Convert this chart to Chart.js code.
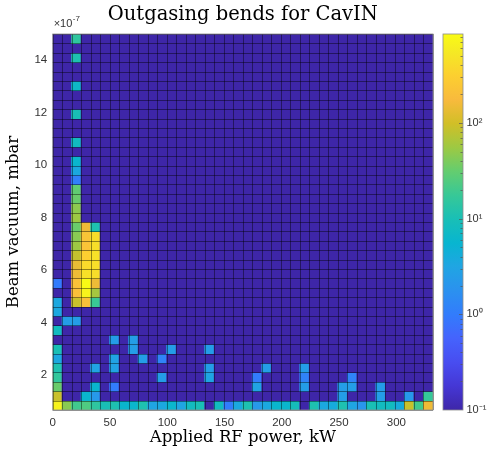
<!DOCTYPE html>
<html><head><meta charset="utf-8">
<script src="https://cdn.jsdelivr.net/npm/chart.js@4.4.1/dist/chart.umd.min.js"></script>
<style>
html,body{margin:0;padding:0;background:#fff;}
#wrap{position:relative;width:489px;height:457px;}
#wrap canvas{position:absolute;left:0;top:0;}
</style></head><body>
<div id="wrap"><canvas id="main" width="489" height="457"></canvas><canvas id="cbar" width="489" height="457"></canvas></div>
<script>
// ---- data ----
// Applied RF power bin edges (kW)
const powerEdges = [0, 8.3, 16.6, 24.9, 33.2, 41.5, 49.8, 58.1, 66.4, 74.7, 83, 91.3, 99.6, 107.9, 116.2, 124.5, 132.8, 141.1, 149.4, 157.7, 166, 174.3, 182.6, 190.9, 199.2, 207.5, 215.8, 224.1, 232.4, 240.7, 249, 257.3, 265.6, 273.9, 282.2, 290.5, 298.8, 307.1, 315.4, 323.7, 332];
// Beam vacuum bin edges (x1e-7 mbar)
const vacuumEdges = [0.667, 1.025, 1.384, 1.742, 2.100, 2.458, 2.817, 3.175, 3.533, 3.891, 4.250, 4.608, 4.966, 5.324, 5.683, 6.041, 6.399, 6.757, 7.116, 7.474, 7.832, 8.190, 8.549, 8.907, 9.265, 9.623, 9.982, 10.340, 10.698, 11.056, 11.415, 11.773, 12.131, 12.489, 12.848, 13.206, 13.564, 13.922, 14.281, 14.639, 14.997];
const xTickValues = [0, 50, 100, 150, 200, 250, 300];
const yTickValues = [2, 4, 6, 8, 10, 12, 14];
const colorLimits = [0.1, 850];
const colorbarTickValues = [0.1, 1, 10, 100];
const colorbarTickLabels = ['10\u207B\u00B9', '10\u2070', '10\u00B9', '10\u00B2'];
// non-empty bins: [power bin, vacuum bin, value]
const bottomRowCells = [[0,0,700],[1,0,45],[2,0,20],[3,0,24],[4,0,15],[5,0,10],[6,0,11],[7,0,6],[8,0,6],[9,0,11],[10,0,3.2],[11,0,3.5],[12,0,6],[13,0,3.2],[14,0,8],[15,0,10],[17,0,8],[18,0,1.0],[19,0,3.5],[20,0,11],[21,0,2.2],[22,0,3.5],[23,0,6],[24,0,6],[25,0,9],[27,0,11],[28,0,3.5],[29,0,4],[30,0,11],[31,0,3.2],[32,0,2],[33,0,10],[34,0,8],[35,0,8],[36,0,4],[37,0,90],[38,0,20],[39,0,150]];
const lowVacuumCells = [[0,1,90],[3,1,6],[4,1,2.2],[30,1,2.5],[34,1,2.5],[37,1,2.2],[39,1,17],
  [0,2,33],[4,2,6],[6,2,1.0],[21,2,3],[26,2,2.5],[30,2,2.5],[31,2,2.5],[34,2,2.5],
  [0,3,16],[11,3,2.5],[16,3,3.2],[21,3,1.0],[26,3,1.2],[31,3,1.2],
  [0,4,11],[4,4,3],[6,4,3],[16,4,2.5],[22,4,2.5],[26,4,2.5],
  [0,5,3.5],[6,5,3],[9,5,2.5],[11,5,1.2],
  [0,6,10],[8,6,2.5],[12,6,2.5],[16,6,2.5],
  [6,7,2.5],[8,7,2.5],
  [0,8,8],[1,9,2.5],[2,9,2.5],[0,10,3.5]];
const burstCells = [[0,11,3.5],[2,11,90],[3,11,200],[4,11,18],
  [2,12,200],[3,12,700],[4,12,60],
  [0,13,1.0],[2,13,210],[3,13,850],[4,13,150],
  [2,14,150],[3,14,450],[4,14,420],
  [2,15,140],[3,15,400],[4,15,440],
  [2,16,85],[3,16,300],[4,16,460],
  [2,17,55],[3,17,220],[4,17,430],
  [2,18,45],[3,18,230],[4,18,420],
  [2,19,33],[3,19,150],[4,19,11],
  [2,20,55],[2,21,47],[2,22,33],[2,23,30],[2,24,1.1],[2,25,3.5],[2,26,6],
  [2,28,8],[2,31,10],[2,34,7],[2,37,11],[2,39,15]];

// ---- colormap (parula) ----
const parulaStops = [[0,0.2422,0.1504,0.6603],[0.0635,0.2706,0.2147,0.8364],[0.127,0.2813,0.3006,0.9414],[0.1905,0.2699,0.3892,0.9906],[0.254,0.1963,0.4847,0.9892],[0.3175,0.1687,0.5703,0.9359],[0.381,0.1248,0.6459,0.8883],[0.444,0.0297,0.7082,0.8163],[0.508,0.0964,0.75,0.712],[0.571,0.2161,0.7843,0.5923],[0.635,0.3909,0.8029,0.4354],[0.698,0.6174,0.7876,0.2612],[0.762,0.8203,0.7498,0.1535],[0.825,0.9728,0.7298,0.2394],[0.889,0.9892,0.8136,0.1885],[0.952,0.9597,0.9135,0.1423],[1,0.9769,0.9839,0.0805]];
function parula(p){
  p = Math.max(0, Math.min(1, p));
  for (let i = 1; i < parulaStops.length; i++) {
    const a = parulaStops[i-1], b = parulaStops[i];
    if (p <= b[0]) {
      const t = (p - a[0]) / (b[0] - a[0]);
      return [0,1,2].map(k => (a[k+1] + t*(b[k+1]-a[k+1])) * 255);
    }
  }
  return parulaStops[parulaStops.length-1].slice(1).map(v => v*255);
}
function rgb(c){ return 'rgb(' + c.map(v => Math.round(v)).join(',') + ')'; }
const lmin = Math.log10(colorLimits[0]), lmax = Math.log10(colorLimits[1]);
function cellColor(v){ return parula(v > 0 ? (Math.log10(v) - lmin) / (lmax - lmin) : 0); }

// ---- build bins ----
const nX = powerEdges.length - 1, nY = vacuumEdges.length - 1;
const value = Array.from({length: nY}, () => new Array(nX).fill(0));
[...bottomRowCells, ...lowVacuumCells, ...burstCells].forEach(([c, r, v]) => { value[r][c] = v; });
const points = [], fills = [];
for (let r = 0; r < nY; r++) {
  for (let c = 0; c < nX; c++) {
    points.push({x: (powerEdges[c] + powerEdges[c+1]) / 2, y: [vacuumEdges[r], vacuumEdges[r+1]]});
    fills.push(rgb(cellColor(value[r][c])));
  }
}

// tile edges (through the scales) + axes box + exponent
const edgePlugin = {
  id: 'edges',
  afterDatasetsDraw(chart) {
    const {ctx, chartArea: a, scales: {x, y}} = chart;
    ctx.save();
    ctx.strokeStyle = 'rgba(0,0,0,0.42)';
    ctx.lineWidth = 1;
    ctx.beginPath();
    powerEdges.forEach(e => { const px = Math.round(x.getPixelForValue(e)) + 0.5; ctx.moveTo(px, a.top); ctx.lineTo(px, a.bottom); });
    vacuumEdges.forEach(e => { const py = Math.round(y.getPixelForValue(e)) + 0.5; ctx.moveTo(a.left, py); ctx.lineTo(a.right, py); });
    ctx.stroke();
    ctx.strokeStyle = '#8c8c8c';
    ctx.lineWidth = 0.8;
    ctx.strokeRect(a.left, a.top, a.right - a.left, a.bottom - a.top);
    ctx.fillStyle = '#333';
    ctx.textBaseline = 'alphabetic';
    ctx.font = '11px "Liberation Sans", Arial, sans-serif';
    ctx.fillText('\u00D710', a.left + 1, 27);
    const w = ctx.measureText('\u00D710').width;
    ctx.font = '8px "Liberation Sans", Arial, sans-serif';
    ctx.fillText('-7', a.left + 1 + w + 0.5, 21);
    ctx.restore();
  }
};

new Chart(document.getElementById('main'), {
  type: 'bar',
  data: { datasets: [{
    data: points,
    backgroundColor: fills,
    borderWidth: 0,
    inflateAmount: 0.5,
    categoryPercentage: 1,
    barPercentage: 1
  }]},
  options: {
    responsive: false, animation: false,
    layout: {padding: {left: 0, right: 56, top: 0, bottom: 0}},
    plugins: {
      legend: {display: false}, tooltip: {enabled: false},
      title: {display: true, fullSize: false, text: 'Outgasing bends for CavIN', color: '#000',
        font: {family: '"DejaVu Serif", serif', size: 19.5, weight: 'normal'}, padding: {top: 3.6, bottom: 7}}
    },
    scales: {
      x: {
        type: 'linear', offset: false, min: powerEdges[0], max: powerEdges[nX],
        afterBuildTicks: s => { s.ticks = xTickValues.map(v => ({value: v})); },
        afterFit: s => { s.height = 47; },
        grid: {display: false, drawTicks: false, offset: false}, border: {display: false},
        ticks: {padding: 6, color: '#333', maxRotation: 0, autoSkip: false, font: {family: '"Liberation Sans", Arial, sans-serif', size: 11.5}},
        title: {display: true, text: 'Applied RF power, kW', color: '#000', font: {family: '"DejaVu Serif", serif', size: 16.5}, padding: {top: 0, bottom: 9}}
      },
      y: {
        type: 'linear', min: vacuumEdges[0], max: vacuumEdges[nY],
        afterBuildTicks: s => { s.ticks = yTickValues.map(v => ({value: v})); },
        afterFit: s => { s.width = 52.7; },
        grid: {display: false, drawTicks: false}, border: {display: false},
        ticks: {padding: 5.5, color: '#333', autoSkip: false, font: {family: '"Liberation Sans", Arial, sans-serif', size: 11.5}},
        title: {display: true, text: 'Beam vacuum, mbar', color: '#000', font: {family: '"DejaVu Serif", serif', size: 16.5}, padding: {top: 3.5, bottom: 0}}
      }
    }
  },
  plugins: [edgePlugin]
});

// ---- colorbar ----
const cbPlugin = {
  id: 'cbticks',
  afterDraw(chart) {
    const {ctx, chartArea: a} = chart;
    const s = chart.scales.y;
    ctx.save();
    ctx.strokeStyle = '#555';
    ctx.lineWidth = 0.7;
    s.ticks.forEach(t => {
      const v = t.value;
      const e = Math.floor(Math.log10(v) + 1e-9);
      const m = v / Math.pow(10, e);
      if (Math.abs(m - Math.round(m)) > 1e-6) return;
      if (v <= colorLimits[0] * 1.0001 || v >= colorLimits[1] * 0.999) return;
      const y = Math.round(s.getPixelForValue(v)) + 0.5;
      const len = Math.round(m) === 1 ? 4 : 2.5;
      ctx.beginPath(); ctx.moveTo(a.right, y); ctx.lineTo(a.right - len, y); ctx.stroke();
    });
    ctx.strokeStyle = '#8c8c8c';
    ctx.lineWidth = 0.8;
    ctx.strokeRect(a.left, a.top, a.right - a.left, a.bottom - a.top);
    ctx.restore();
  }
};
new Chart(document.getElementById('cbar'), {
  type: 'bar',
  data: { labels: ['colour'], datasets: [{
    data: [colorLimits],
    backgroundColor: ctx => {
      const a = ctx.chart.chartArea;
      if (!a) return '#000';
      const g = ctx.chart.ctx.createLinearGradient(0, a.bottom, 0, a.top);
      parulaStops.forEach(st => g.addColorStop(st[0], rgb(st.slice(1).map(v => v*255))));
      return g;
    },
    borderWidth: 0, inflateAmount: 0, categoryPercentage: 1, barPercentage: 1
  }]},
  options: {
    responsive: false, animation: false,
    layout: {padding: {left: 443, right: 0, top: 34, bottom: 47}},
    plugins: {legend: {display: false}, tooltip: {enabled: false}},
    scales: {
      x: {display: false},
      y: {
        type: 'logarithmic', position: 'right', min: colorLimits[0], max: colorLimits[1],
        afterFit: s => { s.width = 26; },
        grid: {display: false, drawTicks: false}, border: {display: false},
        ticks: {autoSkip: false, padding: 3.5, color: '#333', font: {family: '"Liberation Sans", Arial, sans-serif', size: 11},
          callback: v => { const i = colorbarTickValues.findIndex(t => Math.abs(t - v) < t * 1e-6); return i >= 0 ? colorbarTickLabels[i] : ''; }}
      }
    }
  },
  plugins: [cbPlugin]
});
</script>
</body></html>
